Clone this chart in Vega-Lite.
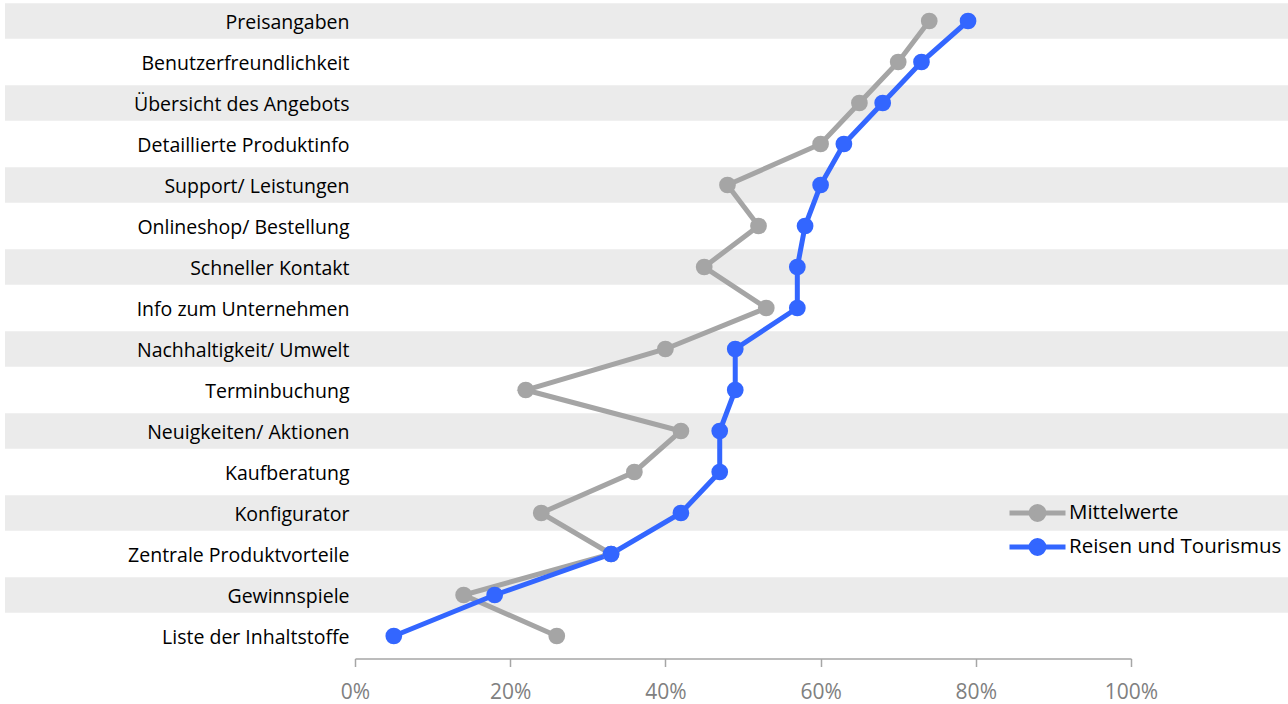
{
  "$schema": "https://vega.github.io/schema/vega-lite/v6.json",
  "width": 1283,
  "height": 656,
  "padding": {"left": 5, "top": 0.5, "right": 0, "bottom": 47.5},
  "autosize": {"type": "none"},
  "background": "white",
  "config": {
    "view": {"stroke": null},
    "font": "Open Sans",
    "axis": {"labelFont": "Open Sans", "titleFont": "Open Sans"},
    "legend": {"labelFont": "Open Sans"}
  },
  "datasets": {
    "bands": [
      {"cat": "Preisangaben"},
      {"cat": "Übersicht des Angebots"},
      {"cat": "Support/ Leistungen"},
      {"cat": "Schneller Kontakt"},
      {"cat": "Nachhaltigkeit/ Umwelt"},
      {"cat": "Neuigkeiten/ Aktionen"},
      {"cat": "Konfigurator"},
      {"cat": "Gewinnspiele"}
    ],
    "vals": [
      {"cat": "Preisangaben", "series": "Mittelwerte", "value": 0.74},
      {"cat": "Benutzerfreundlichkeit", "series": "Mittelwerte", "value": 0.70},
      {"cat": "Übersicht des Angebots", "series": "Mittelwerte", "value": 0.65},
      {"cat": "Detaillierte Produktinfo", "series": "Mittelwerte", "value": 0.60},
      {"cat": "Support/ Leistungen", "series": "Mittelwerte", "value": 0.48},
      {"cat": "Onlineshop/ Bestellung", "series": "Mittelwerte", "value": 0.52},
      {"cat": "Schneller Kontakt", "series": "Mittelwerte", "value": 0.45},
      {"cat": "Info zum Unternehmen", "series": "Mittelwerte", "value": 0.53},
      {"cat": "Nachhaltigkeit/ Umwelt", "series": "Mittelwerte", "value": 0.40},
      {"cat": "Terminbuchung", "series": "Mittelwerte", "value": 0.22},
      {"cat": "Neuigkeiten/ Aktionen", "series": "Mittelwerte", "value": 0.42},
      {"cat": "Kaufberatung", "series": "Mittelwerte", "value": 0.36},
      {"cat": "Konfigurator", "series": "Mittelwerte", "value": 0.24},
      {"cat": "Zentrale Produktvorteile", "series": "Mittelwerte", "value": 0.33},
      {"cat": "Gewinnspiele", "series": "Mittelwerte", "value": 0.14},
      {"cat": "Liste der Inhaltstoffe", "series": "Mittelwerte", "value": 0.26},
      {"cat": "Preisangaben", "series": "Reisen und Tourismus", "value": 0.79},
      {"cat": "Benutzerfreundlichkeit", "series": "Reisen und Tourismus", "value": 0.73},
      {"cat": "Übersicht des Angebots", "series": "Reisen und Tourismus", "value": 0.68},
      {"cat": "Detaillierte Produktinfo", "series": "Reisen und Tourismus", "value": 0.63},
      {"cat": "Support/ Leistungen", "series": "Reisen und Tourismus", "value": 0.60},
      {"cat": "Onlineshop/ Bestellung", "series": "Reisen und Tourismus", "value": 0.58},
      {"cat": "Schneller Kontakt", "series": "Reisen und Tourismus", "value": 0.57},
      {"cat": "Info zum Unternehmen", "series": "Reisen und Tourismus", "value": 0.57},
      {"cat": "Nachhaltigkeit/ Umwelt", "series": "Reisen und Tourismus", "value": 0.49},
      {"cat": "Terminbuchung", "series": "Reisen und Tourismus", "value": 0.49},
      {"cat": "Neuigkeiten/ Aktionen", "series": "Reisen und Tourismus", "value": 0.47},
      {"cat": "Kaufberatung", "series": "Reisen und Tourismus", "value": 0.47},
      {"cat": "Konfigurator", "series": "Reisen und Tourismus", "value": 0.42},
      {"cat": "Zentrale Produktvorteile", "series": "Reisen und Tourismus", "value": 0.33},
      {"cat": "Gewinnspiele", "series": "Reisen und Tourismus", "value": 0.18},
      {"cat": "Liste der Inhaltstoffe", "series": "Reisen und Tourismus", "value": 0.05}
    ]
  },
  "layer": [
    {
      "data": {"name": "bands"},
      "mark": {"type": "rect", "color": "#EBEBEB"},
      "encoding": {
        "y": {"field": "cat", "type": "nominal"}
      }
    },
    {
      "data": {"name": "vals"},
      "mark": {"type": "line", "strokeWidth": 5, "point": {"filled": true, "size": 280, "opacity": 1}},
      "encoding": {
        "x": {
          "field": "value", "type": "quantitative",
          "scale": {"domain": [0, 1], "range": [350, 1126], "nice": false, "zero": false},
          "axis": {
            "title": null, "values": [0, 0.2, 0.4, 0.6, 0.8, 1], "format": ".0%",
            "grid": false, "domainColor": "#A6A6A6", "domainWidth": 1.5,
            "tickColor": "#A6A6A6", "tickSize": 8, "tickWidth": 1.5, "labelFlush": false,
            "labelColor": "#808080", "labelFontSize": 21, "labelPadding": 15, "offset": 2
          }
        },
        "y": {
          "field": "cat", "type": "nominal",
          "sort": ["Preisangaben", "Benutzerfreundlichkeit", "Übersicht des Angebots", "Detaillierte Produktinfo", "Support/ Leistungen", "Onlineshop/ Bestellung", "Schneller Kontakt", "Info zum Unternehmen", "Nachhaltigkeit/ Umwelt", "Terminbuchung", "Neuigkeiten/ Aktionen", "Kaufberatung", "Konfigurator", "Zentrale Produktvorteile", "Gewinnspiele", "Liste der Inhaltstoffe"],
          "scale": {
            "domain": ["Preisangaben", "Benutzerfreundlichkeit", "Übersicht des Angebots", "Detaillierte Produktinfo", "Support/ Leistungen", "Onlineshop/ Bestellung", "Schneller Kontakt", "Info zum Unternehmen", "Nachhaltigkeit/ Umwelt", "Terminbuchung", "Neuigkeiten/ Aktionen", "Kaufberatung", "Konfigurator", "Zentrale Produktvorteile", "Gewinnspiele", "Liste der Inhaltstoffe"],
            "paddingInner": 0.14, "paddingOuter": 0.07
          },
          "axis": {
            "title": null, "ticks": false, "domain": false, "labelPadding": 0,
            "offset": -344, "labelFontSize": 19.5, "labelColor": "#000000", "labelLimit": 400,
            "labelOffset": 2
          }
        },
        "color": {
          "field": "series", "type": "nominal",
          "scale": {"domain": ["Mittelwerte", "Reisen und Tourismus"], "range": ["#A5A5A5", "#3366FF"]},
          "legend": {
            "title": null, "orient": "none", "legendX": 1002, "legendY": 496,
            "symbolType": "M-1,0H3M0.54,0A0.46,0.46 0 1 1 1.46,0A0.46,0.46 0 1 1 0.54,0Z",
            "symbolSize": 784, "symbolStrokeWidth": 5,
            "labelFontSize": 20.5, "labelColor": "#000000", "labelOffset": 29, "rowPadding": 1,
            "labelLimit": 400
          }
        }
      }
    }
  ]
}
